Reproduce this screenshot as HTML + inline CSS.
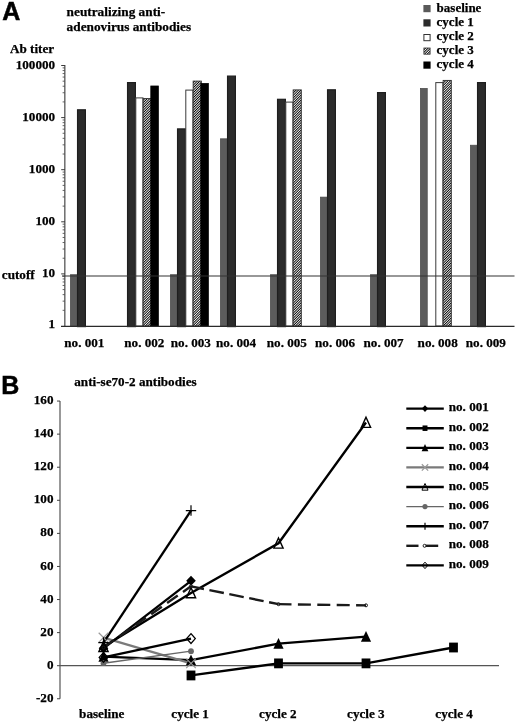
<!DOCTYPE html>
<html><head><meta charset="utf-8"><title>Figure</title>
<style>
html,body{margin:0;padding:0;background:#fff;}
body{width:520px;height:723px;position:relative;overflow:hidden;}
.t{position:absolute;white-space:nowrap;line-height:0;color:#000;font-weight:bold;}
.s{font-family:"Liberation Serif",serif;-webkit-text-stroke:0.25px #000;}
.a{font-family:"Liberation Sans",sans-serif;-webkit-text-stroke:0.5px #000;}
#txt{position:absolute;left:0;top:0;width:520px;height:723px;transform:translateZ(0);}
</style></head><body>
<svg width="520" height="723" viewBox="0 0 520 723" style="position:absolute;left:0;top:0">
<defs><pattern id="h" width="1.77" height="1.77" patternUnits="userSpaceOnUse" patternTransform="rotate(-45)"><rect width="1.77" height="1.77" fill="#fff"/><rect width="1.77" height="0.92" fill="#000"/></pattern></defs>
<rect x="70.40" y="274.70" width="6.85" height="51.50" fill="#5c5c5c" stroke="#484848" stroke-width="0.7"/>
<rect x="77.55" y="109.80" width="7.85" height="216.80" fill="#2b2b2b" stroke="#1e1e1e" stroke-width="1.2"/>
<rect x="127.55" y="82.60" width="7.85" height="244.00" fill="#2b2b2b" stroke="#1e1e1e" stroke-width="1.2"/>
<rect x="135.80" y="97.90" width="7.15" height="228.10" fill="#fff" stroke="#3a3a3a" stroke-width="1"/>
<rect x="143.15" y="98.60" width="8.15" height="227.40" fill="url(#h)" stroke="#2a2a2a" stroke-width="0.9"/>
<rect x="150.80" y="86.00" width="7.55" height="240.30" fill="#000" stroke="#000" stroke-width="0.8"/>
<rect x="170.40" y="274.70" width="6.85" height="51.50" fill="#5c5c5c" stroke="#484848" stroke-width="0.7"/>
<rect x="177.55" y="128.90" width="7.85" height="197.70" fill="#2b2b2b" stroke="#1e1e1e" stroke-width="1.2"/>
<rect x="185.80" y="90.10" width="7.15" height="235.90" fill="#fff" stroke="#3a3a3a" stroke-width="1"/>
<rect x="193.15" y="81.10" width="8.15" height="244.90" fill="url(#h)" stroke="#2a2a2a" stroke-width="0.9"/>
<rect x="200.80" y="83.50" width="7.55" height="242.80" fill="#000" stroke="#000" stroke-width="0.8"/>
<rect x="220.40" y="138.80" width="6.85" height="187.40" fill="#5c5c5c" stroke="#484848" stroke-width="0.7"/>
<rect x="227.55" y="76.10" width="7.85" height="250.50" fill="#2b2b2b" stroke="#1e1e1e" stroke-width="1.2"/>
<rect x="270.40" y="274.70" width="6.85" height="51.50" fill="#5c5c5c" stroke="#484848" stroke-width="0.7"/>
<rect x="277.55" y="99.30" width="7.85" height="227.30" fill="#2b2b2b" stroke="#1e1e1e" stroke-width="1.2"/>
<rect x="285.80" y="102.10" width="7.15" height="223.90" fill="#fff" stroke="#3a3a3a" stroke-width="1"/>
<rect x="293.15" y="89.90" width="8.15" height="236.10" fill="url(#h)" stroke="#2a2a2a" stroke-width="0.9"/>
<rect x="320.40" y="197.10" width="6.85" height="129.10" fill="#5c5c5c" stroke="#484848" stroke-width="0.7"/>
<rect x="327.55" y="89.80" width="7.85" height="236.80" fill="#2b2b2b" stroke="#1e1e1e" stroke-width="1.2"/>
<rect x="370.40" y="274.70" width="6.85" height="51.50" fill="#5c5c5c" stroke="#484848" stroke-width="0.7"/>
<rect x="377.55" y="92.60" width="7.85" height="234.00" fill="#2b2b2b" stroke="#1e1e1e" stroke-width="1.2"/>
<rect x="420.40" y="88.40" width="6.85" height="237.80" fill="#5c5c5c" stroke="#484848" stroke-width="0.7"/>
<rect x="435.80" y="82.60" width="7.15" height="243.40" fill="#fff" stroke="#3a3a3a" stroke-width="1"/>
<rect x="443.15" y="80.40" width="8.15" height="245.60" fill="url(#h)" stroke="#2a2a2a" stroke-width="0.9"/>
<rect x="470.40" y="145.20" width="6.85" height="181.00" fill="#5c5c5c" stroke="#484848" stroke-width="0.7"/>
<rect x="477.55" y="82.60" width="7.85" height="244.00" fill="#2b2b2b" stroke="#1e1e1e" stroke-width="1.2"/>
<line x1="64.85" y1="65.0" x2="64.85" y2="326.5" stroke="#383838" stroke-width="1.1"/>
<line x1="61.0" y1="326.3" x2="514.5" y2="326.3" stroke="#2a2a2a" stroke-width="1.3"/>
<line x1="62.6" y1="310.32" x2="65.0" y2="310.32" stroke="#555" stroke-width="0.9"/>
<line x1="62.6" y1="301.14" x2="65.0" y2="301.14" stroke="#555" stroke-width="0.9"/>
<line x1="62.6" y1="294.63" x2="65.0" y2="294.63" stroke="#555" stroke-width="0.9"/>
<line x1="62.6" y1="289.58" x2="65.0" y2="289.58" stroke="#555" stroke-width="0.9"/>
<line x1="62.6" y1="285.46" x2="65.0" y2="285.46" stroke="#555" stroke-width="0.9"/>
<line x1="62.6" y1="281.97" x2="65.0" y2="281.97" stroke="#555" stroke-width="0.9"/>
<line x1="62.6" y1="278.95" x2="65.0" y2="278.95" stroke="#555" stroke-width="0.9"/>
<line x1="62.6" y1="276.28" x2="65.0" y2="276.28" stroke="#555" stroke-width="0.9"/>
<line x1="61.2" y1="273.90" x2="65.0" y2="273.90" stroke="#3a3a3a" stroke-width="1"/>
<line x1="62.6" y1="258.22" x2="65.0" y2="258.22" stroke="#555" stroke-width="0.9"/>
<line x1="62.6" y1="249.04" x2="65.0" y2="249.04" stroke="#555" stroke-width="0.9"/>
<line x1="62.6" y1="242.53" x2="65.0" y2="242.53" stroke="#555" stroke-width="0.9"/>
<line x1="62.6" y1="237.48" x2="65.0" y2="237.48" stroke="#555" stroke-width="0.9"/>
<line x1="62.6" y1="233.36" x2="65.0" y2="233.36" stroke="#555" stroke-width="0.9"/>
<line x1="62.6" y1="229.87" x2="65.0" y2="229.87" stroke="#555" stroke-width="0.9"/>
<line x1="62.6" y1="226.85" x2="65.0" y2="226.85" stroke="#555" stroke-width="0.9"/>
<line x1="62.6" y1="224.18" x2="65.0" y2="224.18" stroke="#555" stroke-width="0.9"/>
<line x1="61.2" y1="221.80" x2="65.0" y2="221.80" stroke="#3a3a3a" stroke-width="1"/>
<line x1="62.6" y1="206.12" x2="65.0" y2="206.12" stroke="#555" stroke-width="0.9"/>
<line x1="62.6" y1="196.94" x2="65.0" y2="196.94" stroke="#555" stroke-width="0.9"/>
<line x1="62.6" y1="190.43" x2="65.0" y2="190.43" stroke="#555" stroke-width="0.9"/>
<line x1="62.6" y1="185.38" x2="65.0" y2="185.38" stroke="#555" stroke-width="0.9"/>
<line x1="62.6" y1="181.26" x2="65.0" y2="181.26" stroke="#555" stroke-width="0.9"/>
<line x1="62.6" y1="177.77" x2="65.0" y2="177.77" stroke="#555" stroke-width="0.9"/>
<line x1="62.6" y1="174.75" x2="65.0" y2="174.75" stroke="#555" stroke-width="0.9"/>
<line x1="62.6" y1="172.08" x2="65.0" y2="172.08" stroke="#555" stroke-width="0.9"/>
<line x1="61.2" y1="169.70" x2="65.0" y2="169.70" stroke="#3a3a3a" stroke-width="1"/>
<line x1="62.6" y1="154.02" x2="65.0" y2="154.02" stroke="#555" stroke-width="0.9"/>
<line x1="62.6" y1="144.84" x2="65.0" y2="144.84" stroke="#555" stroke-width="0.9"/>
<line x1="62.6" y1="138.33" x2="65.0" y2="138.33" stroke="#555" stroke-width="0.9"/>
<line x1="62.6" y1="133.28" x2="65.0" y2="133.28" stroke="#555" stroke-width="0.9"/>
<line x1="62.6" y1="129.16" x2="65.0" y2="129.16" stroke="#555" stroke-width="0.9"/>
<line x1="62.6" y1="125.67" x2="65.0" y2="125.67" stroke="#555" stroke-width="0.9"/>
<line x1="62.6" y1="122.65" x2="65.0" y2="122.65" stroke="#555" stroke-width="0.9"/>
<line x1="62.6" y1="119.98" x2="65.0" y2="119.98" stroke="#555" stroke-width="0.9"/>
<line x1="61.2" y1="117.60" x2="65.0" y2="117.60" stroke="#3a3a3a" stroke-width="1"/>
<line x1="62.6" y1="101.92" x2="65.0" y2="101.92" stroke="#555" stroke-width="0.9"/>
<line x1="62.6" y1="92.74" x2="65.0" y2="92.74" stroke="#555" stroke-width="0.9"/>
<line x1="62.6" y1="86.23" x2="65.0" y2="86.23" stroke="#555" stroke-width="0.9"/>
<line x1="62.6" y1="81.18" x2="65.0" y2="81.18" stroke="#555" stroke-width="0.9"/>
<line x1="62.6" y1="77.06" x2="65.0" y2="77.06" stroke="#555" stroke-width="0.9"/>
<line x1="62.6" y1="73.57" x2="65.0" y2="73.57" stroke="#555" stroke-width="0.9"/>
<line x1="62.6" y1="70.55" x2="65.0" y2="70.55" stroke="#555" stroke-width="0.9"/>
<line x1="62.6" y1="67.88" x2="65.0" y2="67.88" stroke="#555" stroke-width="0.9"/>
<line x1="61.2" y1="65.50" x2="65.0" y2="65.50" stroke="#3a3a3a" stroke-width="1"/>
<line x1="62.0" y1="276.0" x2="514.5" y2="276.0" stroke="#333" stroke-width="1.1"/>
<line x1="60.0" y1="401.06" x2="60.0" y2="698.78" stroke="#444" stroke-width="1.1"/>
<line x1="57.0" y1="698.78" x2="60.0" y2="698.78" stroke="#444" stroke-width="1"/>
<line x1="57.0" y1="665.70" x2="60.0" y2="665.70" stroke="#444" stroke-width="1"/>
<line x1="57.0" y1="632.62" x2="60.0" y2="632.62" stroke="#444" stroke-width="1"/>
<line x1="57.0" y1="599.54" x2="60.0" y2="599.54" stroke="#444" stroke-width="1"/>
<line x1="57.0" y1="566.46" x2="60.0" y2="566.46" stroke="#444" stroke-width="1"/>
<line x1="57.0" y1="533.38" x2="60.0" y2="533.38" stroke="#444" stroke-width="1"/>
<line x1="57.0" y1="500.30" x2="60.0" y2="500.30" stroke="#444" stroke-width="1"/>
<line x1="57.0" y1="467.22" x2="60.0" y2="467.22" stroke="#444" stroke-width="1"/>
<line x1="57.0" y1="434.14" x2="60.0" y2="434.14" stroke="#444" stroke-width="1"/>
<line x1="57.0" y1="401.06" x2="60.0" y2="401.06" stroke="#444" stroke-width="1"/>
<line x1="60.0" y1="665.7" x2="499" y2="665.7" stroke="#555" stroke-width="1.2"/>
<polyline points="103.50,648.33 191.00,580.85" fill="none" stroke="#000" stroke-width="2.35"/>
<polyline points="191.00,675.46 278.50,663.38 366.00,663.38 453.50,647.51" fill="none" stroke="#000" stroke-width="2.35"/>
<polyline points="103.50,656.60 191.00,660.08 278.50,643.70 366.00,636.59" fill="none" stroke="#000" stroke-width="2.35"/>
<polyline points="103.50,637.58 191.00,663.38" fill="none" stroke="#7a7a7a" stroke-width="2.2"/>
<polyline points="103.50,646.68 191.00,592.92 278.50,543.30 366.00,422.56" fill="none" stroke="#000" stroke-width="2.35"/>
<polyline points="103.50,663.22 191.00,651.14" fill="none" stroke="#666" stroke-width="1.4"/>
<polyline points="103.50,642.54 191.00,510.55" fill="none" stroke="#000" stroke-width="2.35"/>
<line x1="103.50" y1="647.51" x2="191.00" y2="586.31" stroke="#1a1a1a" stroke-width="2.4" stroke-dasharray="13 6.4" stroke-dashoffset="0"/>
<line x1="191.00" y1="586.31" x2="278.50" y2="604.17" stroke="#1a1a1a" stroke-width="2.4" stroke-dasharray="14.7 5.6" stroke-dashoffset="1.5"/>
<line x1="278.50" y1="604.17" x2="366.00" y2="605.33" stroke="#1a1a1a" stroke-width="2.4" stroke-dasharray="13 6.4" stroke-dashoffset="0"/>
<polyline points="103.50,657.43 191.00,638.57" fill="none" stroke="#000" stroke-width="2.35"/>
<path d="M103.5,643.33 L108.30,648.33 L103.5,653.33 L98.70,648.33 Z" fill="#000"/>
<path d="M191.0,575.85 L195.80,580.85 L191.0,585.85 L186.20,580.85 Z" fill="#000"/>
<rect x="186.60" y="670.56" width="8.80" height="9.80" fill="#000"/>
<rect x="274.10" y="658.48" width="8.80" height="9.80" fill="#000"/>
<rect x="361.60" y="658.48" width="8.80" height="9.80" fill="#000"/>
<rect x="449.10" y="642.61" width="8.80" height="9.80" fill="#000"/>
<path d="M103.5,651.00 L108.60,661.70 L98.40,661.70 Z" fill="#000"/>
<path d="M191.0,654.48 L196.10,665.18 L185.90,665.18 Z" fill="#000"/>
<path d="M278.5,638.10 L283.60,648.80 L273.40,648.80 Z" fill="#000"/>
<path d="M366.0,630.99 L371.10,641.69 L360.90,641.69 Z" fill="#000"/>
<path d="M98.70,632.78 L108.30,642.38 M98.70,642.38 L108.30,632.78" stroke="#999" stroke-width="1.2" fill="none"/>
<path d="M186.20,658.58 L195.80,668.18 M186.20,668.18 L195.80,658.58" stroke="#999" stroke-width="1.2" fill="none"/>
<path d="M103.5,641.38 L108.10,651.48 L98.90,651.48 Z" fill="none" stroke="#000" stroke-width="1.4"/>
<path d="M191.0,587.62 L195.60,597.72 L186.40,597.72 Z" fill="none" stroke="#000" stroke-width="1.4"/>
<path d="M278.5,538.00 L283.10,548.10 L273.90,548.10 Z" fill="none" stroke="#000" stroke-width="1.4"/>
<path d="M366.0,417.26 L370.60,427.36 L361.40,427.36 Z" fill="none" stroke="#000" stroke-width="1.4"/>
<circle cx="103.5" cy="663.22" r="2.9" fill="#666"/>
<circle cx="191.0" cy="651.14" r="2.9" fill="#666"/>
<path d="M98.30,642.54 L108.70,642.54 M103.5,637.34 L103.5,647.74" stroke="#000" stroke-width="1.2" fill="none"/>
<path d="M185.80,510.55 L196.20,510.55 M191.0,505.35 L191.0,515.75" stroke="#000" stroke-width="1.2" fill="none"/>
<circle cx="103.5" cy="647.51" r="1.5" fill="none" stroke="#1a1a1a" stroke-width="1"/>
<circle cx="191.0" cy="586.31" r="1.5" fill="none" stroke="#1a1a1a" stroke-width="1"/>
<circle cx="278.5" cy="604.17" r="1.5" fill="none" stroke="#1a1a1a" stroke-width="1"/>
<circle cx="366.0" cy="605.33" r="1.5" fill="none" stroke="#1a1a1a" stroke-width="1"/>
<path d="M103.5,652.53 L107.80,657.43 L103.5,662.33 L99.20,657.43 Z" fill="none" stroke="#000" stroke-width="1.3"/>
<path d="M191.0,633.67 L195.30,638.57 L191.0,643.47 L186.70,638.57 Z" fill="none" stroke="#000" stroke-width="1.3"/>
<line x1="406.3" y1="408.6" x2="443.8" y2="408.6" stroke="#000" stroke-width="2.35"/>
<path d="M425,405.30 L428.17,408.6 L425,411.90 L421.83,408.6 Z" fill="#000"/>
<line x1="406.3" y1="428.2" x2="443.8" y2="428.2" stroke="#000" stroke-width="2.35"/>
<rect x="422.54" y="425.46" width="4.93" height="5.49" fill="#000"/>
<line x1="406.3" y1="447.8" x2="443.8" y2="447.8" stroke="#000" stroke-width="2.35"/>
<path d="M425,444.10 L428.37,451.17 L421.63,451.17 Z" fill="#000"/>
<line x1="406.3" y1="467.4" x2="443.8" y2="467.4" stroke="#7a7a7a" stroke-width="2.2"/>
<path d="M421.83,464.23 L428.17,470.57 M421.83,470.57 L428.17,464.23" stroke="#999" stroke-width="1.2" fill="none"/>
<line x1="406.3" y1="487.0" x2="443.8" y2="487.0" stroke="#000" stroke-width="2.35"/>
<path d="M425,483.50 L428.04,490.17 L421.96,490.17 Z" fill="none" stroke="#000" stroke-width="1.0"/>
<line x1="406.3" y1="506.6" x2="443.8" y2="506.6" stroke="#666" stroke-width="1.4"/>
<circle cx="425" cy="506.6" r="2.6" fill="#666"/>
<line x1="406.3" y1="526.2" x2="443.8" y2="526.2" stroke="#000" stroke-width="2.35"/>
<path d="M421.57,526.2 L428.43,526.2 M425,522.77 L425,529.63" stroke="#000" stroke-width="1.2" fill="none"/>
<line x1="406.3" y1="545.8" x2="418.5" y2="545.8" stroke="#1a1a1a" stroke-width="2.4"/>
<line x1="425.8" y1="545.8" x2="438.2" y2="545.8" stroke="#1a1a1a" stroke-width="2.4"/>
<circle cx="424.6" cy="545.8" r="1.5" fill="none" stroke="#1a1a1a" stroke-width="1"/>
<line x1="406.3" y1="565.4" x2="443.8" y2="565.4" stroke="#000" stroke-width="2.35"/>
<path d="M425,562.17 L427.84,565.4 L425,568.63 L422.16,565.4 Z" fill="none" stroke="#000" stroke-width="1.0"/>
<rect x="423.4" y="5" width="7.2" height="7.2" fill="#5a5a5a"/>
<rect x="423.4" y="19.3" width="7.2" height="7.2" fill="#2b2b2b"/>
<rect x="423.9" y="34.5" width="6.2" height="6.2" fill="#fff" stroke="#333" stroke-width="1"/>
<rect x="423.9" y="48" width="6.2" height="6.2" fill="url(#h)" stroke="#333" stroke-width="0.8"/>
<rect x="423.4" y="61.5" width="7.2" height="7.2" fill="#000"/>
</svg>
<div id="txt">
<div class="t a" id="A" style="left:2.3px;top:11.14px;font-size:25px">A</div>
<div class="t a" id="B" style="left:1.3px;top:385.04px;font-size:25px">B</div>
<div class="t s" id="t1" style="left:66.6px;top:12.01px;font-size:13.3px;">neutralizing anti-</div>
<div class="t s" id="t2" style="left:66.6px;top:26.71px;font-size:13.3px;">adenovirus antibodies</div>
<div class="t s" id="t3" style="left:10.0px;top:48.76px;font-size:13.15px;">Ab titer</div>
<div class="t s" id="t4" style="right:464.9px;top:323.76px;font-size:13.15px;">1</div>
<div class="t s" id="t5" style="right:464.9px;top:273.06px;font-size:13.15px;">10</div>
<div class="t s" id="t6" style="right:464.9px;top:221.06px;font-size:13.15px;">100</div>
<div class="t s" id="t7" style="right:464.9px;top:168.86px;font-size:13.15px;">1000</div>
<div class="t s" id="t8" style="right:464.9px;top:116.86px;font-size:13.15px;">10000</div>
<div class="t s" id="t9" style="right:464.9px;top:65.36px;font-size:13.15px;">100000</div>
<div class="t s" id="t10" style="left:1.8px;top:274.96px;font-size:13.15px;">cutoff</div>
<div class="t s" id="t11" style="left:64.25px;top:342.66px;font-size:13.15px;">no. 001</div>
<div class="t s" id="t12" style="left:124.25px;top:342.66px;font-size:13.15px;">no. 002</div>
<div class="t s" id="t13" style="left:170.75px;top:342.66px;font-size:13.15px;">no. 003</div>
<div class="t s" id="t14" style="left:216.0px;top:342.66px;font-size:13.15px;">no. 004</div>
<div class="t s" id="t15" style="left:266.75px;top:342.66px;font-size:13.15px;">no. 005</div>
<div class="t s" id="t16" style="left:315.0px;top:342.66px;font-size:13.15px;">no. 006</div>
<div class="t s" id="t17" style="left:363.5px;top:342.66px;font-size:13.15px;">no. 007</div>
<div class="t s" id="t18" style="left:417.6px;top:342.66px;font-size:13.15px;">no. 008</div>
<div class="t s" id="t19" style="left:465.75px;top:342.66px;font-size:13.15px;">no. 009</div>
<div class="t s" id="t20" style="left:74.3px;top:382.16px;font-size:13.15px;">anti-se70-2 antibodies</div>
<div class="t s" id="t21" style="right:466.5px;top:697.84px;font-size:13.15px;">-20</div>
<div class="t s" id="t22" style="right:466.5px;top:664.76px;font-size:13.15px;">0</div>
<div class="t s" id="t23" style="right:466.5px;top:631.68px;font-size:13.15px;">20</div>
<div class="t s" id="t24" style="right:466.5px;top:598.6px;font-size:13.15px;">40</div>
<div class="t s" id="t25" style="right:466.5px;top:565.52px;font-size:13.15px;">60</div>
<div class="t s" id="t26" style="right:466.5px;top:532.44px;font-size:13.15px;">80</div>
<div class="t s" id="t27" style="right:466.5px;top:499.36px;font-size:13.15px;">100</div>
<div class="t s" id="t28" style="right:466.5px;top:466.28px;font-size:13.15px;">120</div>
<div class="t s" id="t29" style="right:466.5px;top:433.2px;font-size:13.15px;">140</div>
<div class="t s" id="t30" style="right:466.5px;top:400.12px;font-size:13.15px;">160</div>
<div class="t s" id="t31" style="left:79.1px;top:714.06px;font-size:13.15px;">baseline</div>
<div class="t s" id="t32" style="left:171.35px;top:714.06px;font-size:13.15px;">cycle 1</div>
<div class="t s" id="t33" style="left:259.1px;top:714.06px;font-size:13.15px;">cycle 2</div>
<div class="t s" id="t34" style="left:347.1px;top:714.06px;font-size:13.15px;">cycle 3</div>
<div class="t s" id="t35" style="left:435.35px;top:714.06px;font-size:13.15px;">cycle 4</div>
<div class="t s" id="t36" style="left:448.7px;top:407.26px;font-size:13.15px;">no. 001</div>
<div class="t s" id="t37" style="left:448.7px;top:426.86px;font-size:13.15px;">no. 002</div>
<div class="t s" id="t38" style="left:448.7px;top:446.46px;font-size:13.15px;">no. 003</div>
<div class="t s" id="t39" style="left:448.7px;top:466.06px;font-size:13.15px;">no. 004</div>
<div class="t s" id="t40" style="left:448.7px;top:485.66px;font-size:13.15px;">no. 005</div>
<div class="t s" id="t41" style="left:448.7px;top:505.26px;font-size:13.15px;">no. 006</div>
<div class="t s" id="t42" style="left:448.7px;top:524.86px;font-size:13.15px;">no. 007</div>
<div class="t s" id="t43" style="left:448.7px;top:544.46px;font-size:13.15px;">no. 008</div>
<div class="t s" id="t44" style="left:448.7px;top:564.06px;font-size:13.15px;">no. 009</div>
<div class="t s" id="t45" style="left:436.6px;top:7.71px;font-size:13.0px;">baseline</div>
<div class="t s" id="t46" style="left:436.6px;top:21.81px;font-size:13.0px;">cycle 1</div>
<div class="t s" id="t47" style="left:436.6px;top:35.91px;font-size:13.0px;">cycle 2</div>
<div class="t s" id="t48" style="left:436.6px;top:50.01px;font-size:13.0px;">cycle 3</div>
<div class="t s" id="t49" style="left:436.6px;top:64.11px;font-size:13.0px;">cycle 4</div>
</div>
</body></html>
